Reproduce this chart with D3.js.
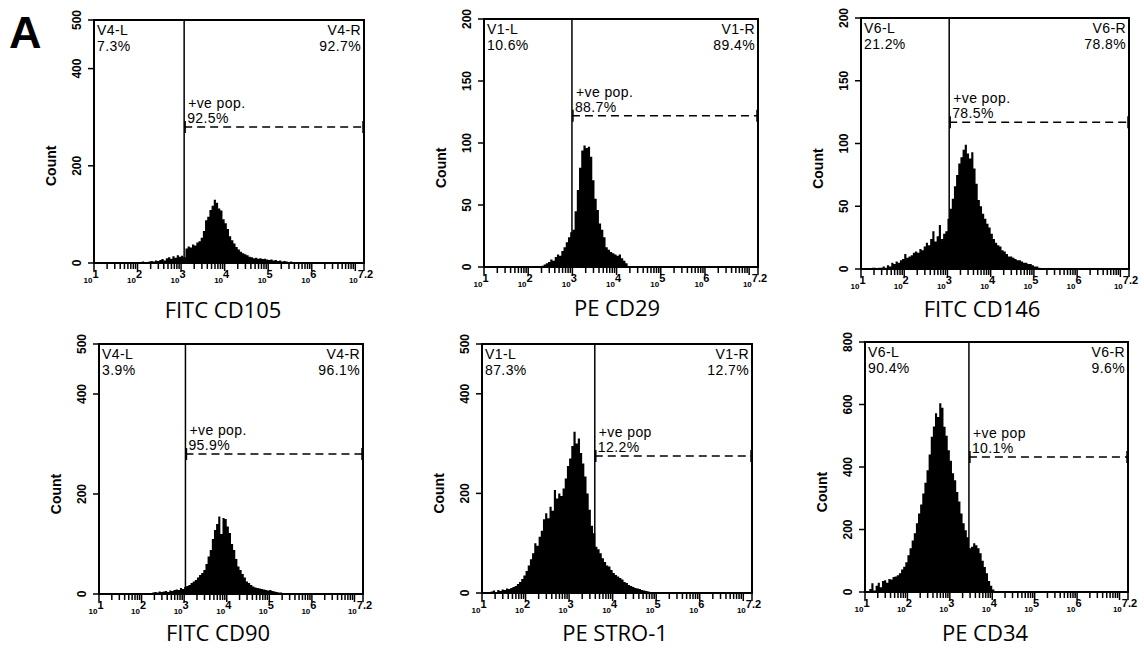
<!DOCTYPE html>
<html>
<head>
<meta charset="utf-8">
<title>Flow cytometry histograms</title>
<script src="https://d3js.org/d3.v7.min.js"></script>
<style>
  body { margin: 0; background: white; }
  svg { display: block; background: white; }
  .inner { font-family: "Liberation Sans", Arial, sans-serif; font-size: 14px; letter-spacing: 0.4px; }
</style>
</head>
<body>
<svg id="chart" width="1144" height="648"></svg>
<script>
// one entry per panel, read left to right, top row first
const markers = ["FITC CD105", "PE CD29", "FITC CD146", "FITC CD90", "PE STRO-1", "PE CD34"];
const gateNames = ["V4", "V1", "V6", "V4", "V1", "V6"];
const leftPct = ["7.3%", "10.6%", "21.2%", "3.9%", "87.3%", "90.4%"];
const rightPct = ["92.7%", "89.4%", "78.8%", "96.1%", "12.7%", "9.6%"];
const posLabel = ["+ve pop.", "+ve pop.", "+ve pop.", "+ve pop.", "+ve pop", "+ve pop"];
const posPct = ["92.5%", "88.7%", "78.5%", "95.9%", "12.2%", "10.1%"];
const gateLog = [3.07, 2.99, 3.04, 3.03, 3.59, 3.45];   // log10 of gate position
const markerLevel = [280, 122, 117, 280, 275, 432];     // dashed marker height (count)
const yMax = [500, 200, 200, 500, 500, 800];
const yTicks = [
  [0, 200, 400, 500],
  [0, 50, 100, 150, 200],
  [0, 50, 100, 150, 200],
  [0, 200, 400, 500],
  [0, 200, 400, 500],
  [0, 200, 400, 600, 800]
];
const xTickExp = [1, 2, 3, 4, 5, 6, 7.2];

// histogram counts, bins are 0.05 decade wide, first bin starts at binStart (log10)
const binWidth = 0.05;
const binStart = [1.8, 2.3, 1.25, 2.2, 1.2, 1.1];
const countsCD105 = [1,0,2,1,2,1,3,2,2,3,4,3,5,4,
  6,8,5,10,12,9,14,11,16,13,15,12,
  30,34,32,38,36,42,45,
  52,66,88,95,109,118,130,
  124,112,108,90,82,70,55,
  47,40,33,28,23,20,18,
  16,13,12,10,11,9,10,8,9,7,
  6,7,5,6,4,5,3,4,3,2,3,2,1,2,1,1];
const countsCD29 = [1,2,3,4,
  6,5,8,10,9,13,
  16,20,24,28,
  30,45,62,80,
  94,98,96,97,
  89,70,55,46,
  35,30,24,16,
  14,12,11,10,
  9,10,7,5,3];
const countsCD146 = [1,1,0,1,1,
  2,1,3,2,5,
  4,6,5,7,8,
  12,9,10,11,13,
  14,13,16,15,18,
  21,19,24,30,22,
  26,35,24,28,30,
  40,48,56,66,75,
  84,89,95,99,92,
  88,93,80,68,55,
  50,44,40,36,33,
  28,24,21,19,18,
  15,14,12,10,10,
  9,8,7,7,6,
  5,5,4,4,3,2,2,1];
const countsCD90 = [2,3,4,3,5,4,
  5,6,4,7,6,8,
  9,8,12,10,14,16,
  18,22,25,28,33,38,
  42,48,60,75,88,110,
  128,140,155,120,152,150,
  135,122,100,88,70,55,
  48,40,33,25,22,18,
  15,13,12,11,10,9,
  8,7,8,6,5,4,3,3,2,1];
const countsSTRO1 = [3,5,2,6,4,7,
  6,9,8,10,12,14,
  18,22,28,35,44,55,
  68,80,100,95,113,125,
  148,160,150,173,165,207,
  190,200,195,210,230,255,
  270,295,324,300,310,281,
  260,234,200,167,135,120,
  93,88,80,70,62,55,
  53,46,40,36,33,30,
  27,22,20,16,14,12,
  10,9,8,6,5,4,3,2,1];
const countsCD34 = [10,28,5,20,30,15,
  35,38,30,42,40,48,
  50,54,60,72,81,95,
  118,140,165,188,220,251,
  280,315,350,390,440,497,
  530,572,560,604,590,529,
  500,454,420,380,358,320,
  290,251,220,198,175,140,
  145,156,150,140,124,100,
  80,60,35,20,8];
const allCounts = [countsCD105, countsCD29, countsCD146, countsCD90, countsSTRO1, countsCD34];

// plot boxes in page pixels
const boxes = [
  {x0: 94,  x1: 364,  y0: 20,  y1: 263, lx: 223, ly: 318},
  {x0: 484, x1: 758,  y0: 19,  y1: 267, lx: 617, ly: 316},
  {x0: 861, x1: 1129, y0: 18,  y1: 269, lx: 982, ly: 317},
  {x0: 99,  x1: 363,  y0: 344, y1: 594, lx: 218, ly: 641},
  {x0: 482, x1: 752,  y0: 344, y1: 593, lx: 615, ly: 641},
  {x0: 865, x1: 1128, y0: 342, y1: 592, lx: 985, ly: 641}
];

const svg = d3.select("#chart");

svg.append("text")
  .attr("x", 9).attr("y", 48)
  .attr("font-family", "Liberation Sans, Arial, sans-serif")
  .attr("font-weight", "bold")
  .attr("font-size", 45)
  .text("A");

boxes.forEach((b, p) => {
  const g = svg.append("g");
  const x = d3.scaleLog().domain([10, Math.pow(10, 7.2)]).range([b.x0, b.x1]);
  const y = d3.scaleLinear().domain([0, yMax[p]]).range([b.y1, b.y0]);

  // histogram as one stepped area
  const pts = allCounts[p].map((c, i) => ({lg: binStart[p] + i * binWidth, c: c}));
  pts.push({lg: binStart[p] + allCounts[p].length * binWidth, c: 0});
  const area = d3.area()
    .x(d => x(Math.pow(10, d.lg)))
    .y0(y(0))
    .y1(d => y(d.c))
    .curve(d3.curveStepAfter);
  g.append("path").datum(pts)
    .attr("d", area)
    .attr("fill", "black");

  // frame
  g.append("rect")
    .attr("x", b.x0).attr("y", b.y0)
    .attr("width", b.x1 - b.x0).attr("height", b.y1 - b.y0)
    .attr("fill", "none").attr("stroke", "black").attr("stroke-width", 2);

  // y axis ticks and labels
  yTicks[p].forEach(t => {
    g.append("line")
      .attr("x1", b.x0 - 6).attr("x2", b.x0)
      .attr("y1", y(t)).attr("y2", y(t))
      .attr("stroke", "black").attr("stroke-width", 1.5);
    g.append("text")
      .attr("transform", `translate(${b.x0 - 13},${y(t)}) rotate(-90)`)
      .attr("text-anchor", "middle")
      .attr("font-family", "Liberation Sans, Arial, sans-serif")
      .attr("font-size", 12).attr("font-weight", "bold")
      .text(t);
  });
  g.append("text")
    .attr("transform", `translate(${b.x0 - 38},${b.y0 + 0.6 * (b.y1 - b.y0)}) rotate(-90)`)
    .attr("text-anchor", "middle")
    .attr("font-family", "Liberation Sans, Arial, sans-serif")
    .attr("font-size", 14).attr("font-weight", "bold")
    .text("Count");

  // x axis: decade ticks plus log minor ticks
  for (let d = 1; d <= 7; d++) {
    for (let m = 1; m <= 9; m++) {
      const v = m * Math.pow(10, d);
      if (v > Math.pow(10, 7.2)) continue;
      g.append("line")
        .attr("x1", x(v)).attr("x2", x(v))
        .attr("y1", b.y1).attr("y2", b.y1 + (m === 1 ? 8 : 6))
        .attr("stroke", "black").attr("stroke-width", 1.5);
    }
  }
  g.append("line")
    .attr("x1", b.x1).attr("x2", b.x1)
    .attr("y1", b.y1).attr("y2", b.y1 + 8)
    .attr("stroke", "black").attr("stroke-width", 1.5);
  xTickExp.forEach(e => {
    const t = g.append("text")
      .attr("x", x(Math.pow(10, e)) - 3).attr("y", b.y1 + 20)
      .attr("text-anchor", "middle")
      .attr("font-family", "Liberation Sans, Arial, sans-serif")
      .attr("font-weight", "bold");
    t.append("tspan").attr("font-size", 8).text("10");
    t.append("tspan").attr("font-size", 11).attr("dy", -5).text(e);
  });

  // gate and positive-population marker
  const gx = x(Math.pow(10, gateLog[p]));
  g.append("line")
    .attr("x1", gx).attr("x2", gx)
    .attr("y1", b.y0).attr("y2", b.y1)
    .attr("stroke", "black").attr("stroke-width", 1.5);
  const my = y(markerLevel[p]);
  g.append("line")
    .attr("x1", gx).attr("x2", b.x1)
    .attr("y1", my).attr("y2", my)
    .attr("stroke", "black").attr("stroke-width", 1.5)
    .attr("stroke-dasharray", "8,5");
  [gx + 1, b.x1 - 1].forEach(ex => {
    g.append("line")
      .attr("x1", ex).attr("x2", ex)
      .attr("y1", my - 6).attr("y2", my + 6)
      .attr("stroke", "black").attr("stroke-width", 1.5);
  });

  // region labels
  const lab = g.append("g").attr("class", "inner");
  lab.append("text").attr("x", b.x0 + 3).attr("y", b.y0 + 15).text(gateNames[p] + "-L");
  lab.append("text").attr("x", b.x0 + 3).attr("y", b.y0 + 31).text(leftPct[p]);
  lab.append("text").attr("x", b.x1 - 3).attr("y", b.y0 + 15)
    .attr("text-anchor", "end").text(gateNames[p] + "-R");
  lab.append("text").attr("x", b.x1 - 3).attr("y", b.y0 + 31)
    .attr("text-anchor", "end").text(rightPct[p]);
  lab.append("text").attr("x", gx + 4).attr("y", my - 19).text(posLabel[p]);
  lab.append("text").attr("x", gx + 3).attr("y", my - 4).text(posPct[p]);

  // marker name under the plot
  g.append("text")
    .attr("x", b.lx).attr("y", b.ly)
    .attr("text-anchor", "middle")
    .attr("font-family", "Open Sans, sans-serif")
    .attr("font-size", 22)
    .text(markers[p]);
});
</script>
</body>
</html>
